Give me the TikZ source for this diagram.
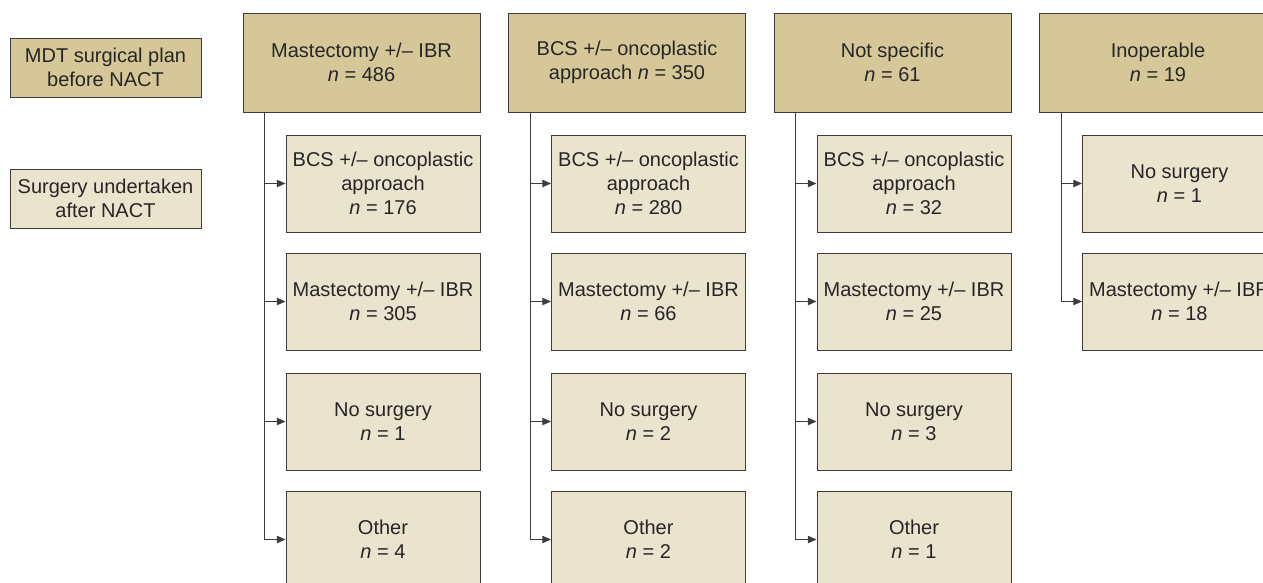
\documentclass[tikz,border=0pt]{standalone}
\usepackage{fontspec}
\setmainfont{Liberation Sans}
\usetikzlibrary{arrows.meta}
\definecolor{plantan}{RGB}{213,199,152}
\definecolor{surgtan}{RGB}{234,227,206}
\definecolor{edgegrey}{RGB}{60,60,60}
\tikzset{
  box/.style={draw=edgegrey, line width=0.7pt, inner sep=0pt, align=center,
    font=\fontsize{15pt}{18pt}\selectfont, text=black!85},
  plan/.style={box, fill=plantan, minimum width=177.75pt, minimum height=74.25pt},
  surg/.style={box, fill=surgtan, minimum width=145.5pt, minimum height=72.75pt},
  key/.style={box, minimum width=143.25pt, minimum height=44.25pt},
}
\begin{document}
\begin{tikzpicture}[x=0.75pt, y=-0.75pt, >={Triangle[length=6.5pt,width=5.5pt]}]
  \useasboundingbox (0,0) rectangle (1263,582);
  \clip (0,0) rectangle (1263,582);
  % key
  \node[key, fill=plantan] (k1) at (105.5,67.5) {MDT surgical plan\\before NACT};
  \node[key, fill=surgtan] (k2) at (105.5,198.5) {Surgery undertaken\\after NACT};
  % plans before NACT
  \draw
    (361.5,62.5) node[plan] (p1) {Mastectomy +/– IBR\\\textit{n} = 486}
    (627,62.5) node[plan] (p2) {BCS +/– oncoplastic\\approach \textit{n} = 350}
    (892.5,62.5) node[plan] (p3) {Not specific\\\textit{n} = 61}
    (1158,62.5) node[plan] (p4) {Inoperable\\\textit{n} = 19};
  % surgery after NACT
  \draw
    (383,183.5) node[surg] (p1a) {BCS +/– oncoplastic\\approach\\\textit{n} = 176}
    (383,301.5) node[surg] (p1b) {Mastectomy +/– IBR\\\textit{n} = 305}
    (383,421.5) node[surg] (p1c) {No surgery\\\textit{n} = 1}
    (383,539.5) node[surg] (p1d) {Other\\\textit{n} = 4}
    (648.5,183.5) node[surg] (p2a) {BCS +/– oncoplastic\\approach\\\textit{n} = 280}
    (648.5,301.5) node[surg] (p2b) {Mastectomy +/– IBR\\\textit{n} = 66}
    (648.5,421.5) node[surg] (p2c) {No surgery\\\textit{n} = 2}
    (648.5,539.5) node[surg] (p2d) {Other\\\textit{n} = 2}
    (914,183.5) node[surg] (p3a) {BCS +/– oncoplastic\\approach\\\textit{n} = 32}
    (914,301.5) node[surg] (p3b) {Mastectomy +/– IBR\\\textit{n} = 25}
    (914,421.5) node[surg] (p3c) {No surgery\\\textit{n} = 3}
    (914,539.5) node[surg] (p3d) {Other\\\textit{n} = 1}
    (1179.5,183.5) node[surg] (p4a) {No surgery\\\textit{n} = 1}
    (1179.5,301.5) node[surg] (p4b) {Mastectomy +/– IBR\\\textit{n} = 18};
  \begin{scope}[->, draw=edgegrey, line width=0.75pt]
    \draw ([xshift=16.5pt]p1.south west) |- (p1a.west);
    \draw ([xshift=16.5pt]p1.south west) |- (p1b.west);
    \draw ([xshift=16.5pt]p1.south west) |- (p1c.west);
    \draw ([xshift=16.5pt]p1.south west) |- (p1d.west);
    \draw ([xshift=16.5pt]p2.south west) |- (p2a.west);
    \draw ([xshift=16.5pt]p2.south west) |- (p2b.west);
    \draw ([xshift=16.5pt]p2.south west) |- (p2c.west);
    \draw ([xshift=16.5pt]p2.south west) |- (p2d.west);
    \draw ([xshift=16.5pt]p3.south west) |- (p3a.west);
    \draw ([xshift=16.5pt]p3.south west) |- (p3b.west);
    \draw ([xshift=16.5pt]p3.south west) |- (p3c.west);
    \draw ([xshift=16.5pt]p3.south west) |- (p3d.west);
    \draw ([xshift=16.5pt]p4.south west) |- (p4a.west);
    \draw ([xshift=16.5pt]p4.south west) |- (p4b.west);
  \end{scope}
\end{tikzpicture}
\end{document}
